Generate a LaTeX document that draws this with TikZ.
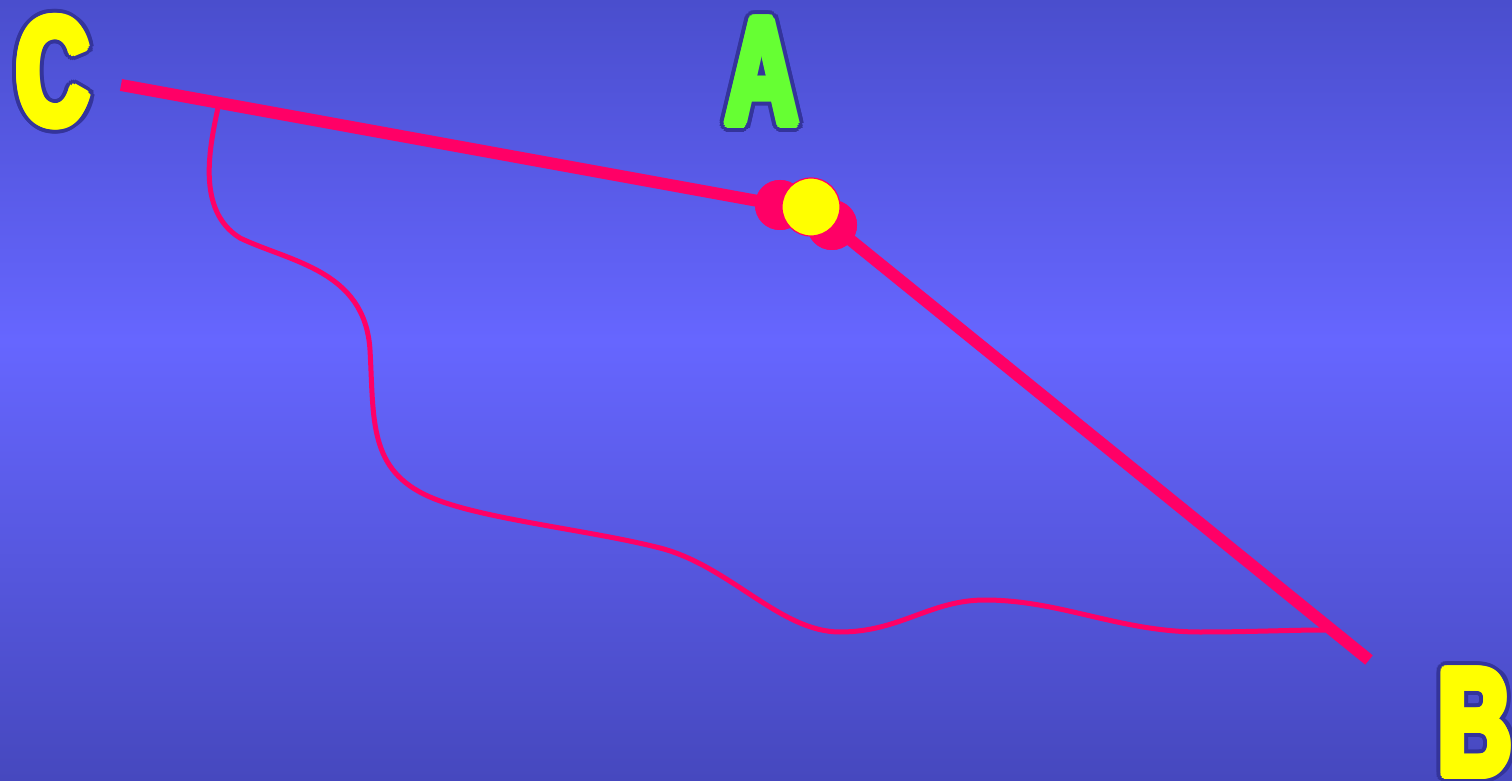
\documentclass[tikz,border=0pt]{standalone}
\usepackage{fontspec}
\setmainfont{Liberation Sans}
\usepackage{tikz}
\usetikzlibrary{positioning,calc}
\definecolor{bgTop}{RGB}{74,78,205}
\definecolor{bgMid}{RGB}{102,102,255}
\definecolor{bgBot}{RGB}{70,72,190}
\definecolor{lineRed}{RGB}{255,0,102}
\definecolor{dotYellow}{RGB}{255,255,0}
\definecolor{letterGreen}{RGB}{102,255,51}
\definecolor{letterEdge}{RGB}{52,52,155}

\begin{document}
\begin{tikzpicture}[x=0.5pt, y=-0.5pt, line join=round,
  thickline/.style={draw=lineRed, line width=6pt},
  thinline/.style={draw=lineRed, line width=2.5pt, line cap=round},
  reddot/.style={circle, fill=lineRed, minimum size=25pt, inner sep=0pt},
  yellowdot/.style={circle, fill=dotYellow, draw=lineRed, line width=0.6pt, minimum size=29pt, inner sep=0pt},
  letter/.style={font=\fontsize{76}{76}\selectfont\bfseries, inner sep=0pt, anchor=base, xscale=0.66, transform shape}]
\useasboundingbox (0,0) rectangle (1512,781);
\clip (0,0) rectangle (1512,781);
% background
\fill[top color=bgTop, bottom color=bgMid] (0,0) rectangle (1512,341);
\fill[top color=bgMid, bottom color=bgBot] (0,340) rectangle (1512,781);
% ends of the lines
\coordinate (cEnd) at (121,85);
\coordinate (bEnd) at (1369,660);
\coordinate (curveStart) at (219,103);
\coordinate (curveEnd) at (1325,630);
% winding path
\draw[thinline] (curveStart) .. controls (210,145) and (195,210) .. (240,238)
  .. controls (290,262) and (365,270) .. (370,350)
  .. controls (374,420) and (368,470) .. (430,497)
  .. controls (480,519) and (590,530) .. (660,548)
  .. controls (730,566) and (780,632) .. (840,632)
  .. controls (900,632) and (930,600) .. (985,600)
  .. controls (1060,600) and (1120,632) .. (1200,632)
  .. controls (1250,632) and (1290,630) .. (curveEnd);
% dots at A
\node[reddot] (dotL) at (780,205) {};
\node[reddot] (dotR) at (832,225) {};
\draw[thickline] (cEnd) -- (dotL.center);
\draw[thickline] (dotR.center) -- (bEnd);
\node[reddot] (dotL2) at (dotL) {};
\node[reddot] (dotR2) at (dotR) {};
\node[yellowdot] (dotA) at (811,207) {};
% letters
\foreach \name/\pos/\fillc in {C/{53,124}/dotYellow, A/{762,124}/letterGreen, B/{1475,775}/dotYellow}{
  \foreach \k in {0,...,23}
    \node[letter, text=letterEdge] (\name-o\k) at ($(\pos)+(\k*15:4.2pt)$) {\name};
  \foreach \k in {0,...,15}
    \node[letter, text=\fillc] (\name-f\k) at ($(\pos)+(\k*22.5:2.2pt)$) {\name};
  \node[letter, text=\fillc] (\name) at (\pos) {\name};
}
\end{tikzpicture}
\end{document}
